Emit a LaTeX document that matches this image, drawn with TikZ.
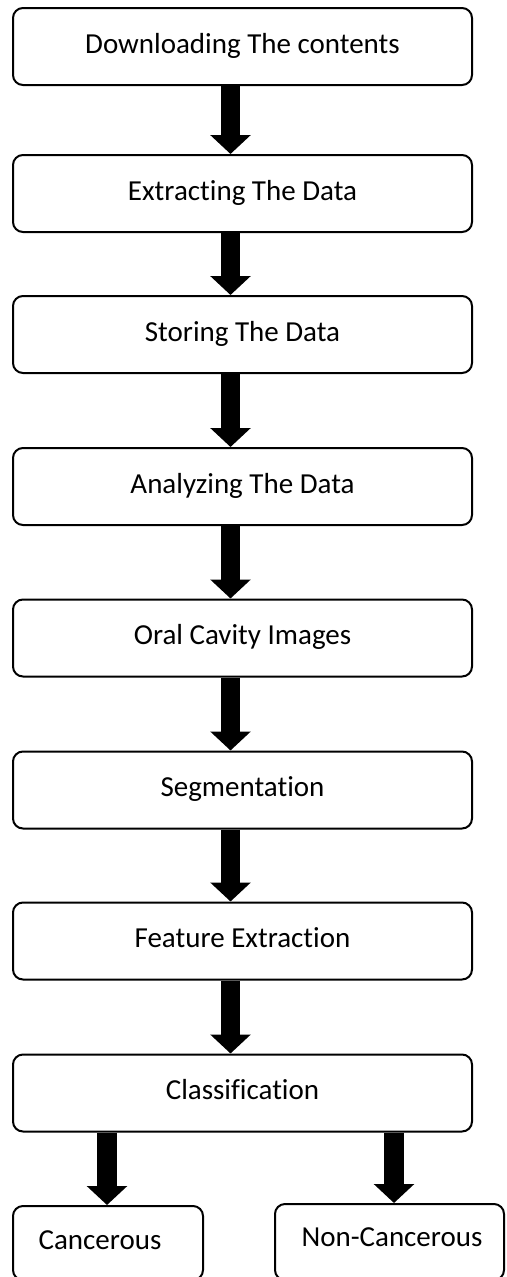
\documentclass[tikz,border=0pt]{standalone}
\usepackage{fontspec}
\setmainfont{Carlito}[Ligatures=NoCommon,RawFeature={-liga;-clig;-calt}]
\usetikzlibrary{arrows.meta}
\begin{document}
\begin{tikzpicture}[x=1pt,y=-1pt,
  stepbox/.style={draw=black, line width=2pt, rounded corners=10pt, fill=white,
    minimum width=459pt, minimum height=77pt, inner sep=0pt, text height=19pt, text depth=6pt,
    font=\fontsize{29}{34}\selectfont},
  endbox/.style={draw=black, line width=2pt, rounded corners=10pt, fill=white, inner sep=0pt},
  label/.style={inner sep=0pt, text height=19pt, text depth=0pt, font=\fontsize{29}{34}\selectfont},
  bigarrow/.style={line width=19.5pt, line cap=butt, -{Triangle[width=39.5pt,length=19pt]}}
]
\useasboundingbox (0,0) rectangle (506,1277);
\clip (0,0) rectangle (506,1277);
\fill[white] (0,0) rectangle (506,1277);
\coordinate (ax) at (230.5,0);
\coordinate (axl) at (107,0);
\coordinate (axr) at (394,0);
\node[stepbox] (b1) at (242.5,46.5) {Downloading The contents};
\node[stepbox] (b2) at (242.5,193.5) {Extracting The Data};
\node[stepbox] (b3) at (242.5,334.5) {Storing The Data};
\node[stepbox] (b4) at (242.5,486.5) {Analyzing The Data};
\node[stepbox] (b5) at (242.5,638) {Oral Cavity Images};
\node[stepbox] (b6) at (242.5,790) {Segmentation};
\node[stepbox] (b7) at (242.5,941) {Feature Extraction};
\node[stepbox] (b8) at (242.5,1093) {Classification};
\node[endbox, minimum width=190pt, minimum height=74pt] (c1) at (108,1243) {};
\node[endbox, minimum width=229pt, minimum height=76pt] (c2) at (389.5,1242) {};
\node[label] (t1) at (100,1240) {Cancerous};
\node[label] (t2) at (392,1237) {Non-Cancerous};
\draw[bigarrow] (b1.south -| ax) -- (b2.north -| ax);
\draw[bigarrow] (b2.south -| ax) -- (b3.north -| ax);
\draw[bigarrow] (b3.south -| ax) -- (b4.north -| ax);
\draw[bigarrow] (b4.south -| ax) -- (b5.north -| ax);
\draw[bigarrow] (b5.south -| ax) -- (b6.north -| ax);
\draw[bigarrow] (b6.south -| ax) -- (b7.north -| ax);
\draw[bigarrow] (b7.south -| ax) -- (b8.north -| ax);
\draw[bigarrow] (b8.south -| axl) -- (c1.north -| axl);
\draw[bigarrow] (b8.south -| axr) -- (c2.north -| axr);
\end{tikzpicture}
\end{document}
